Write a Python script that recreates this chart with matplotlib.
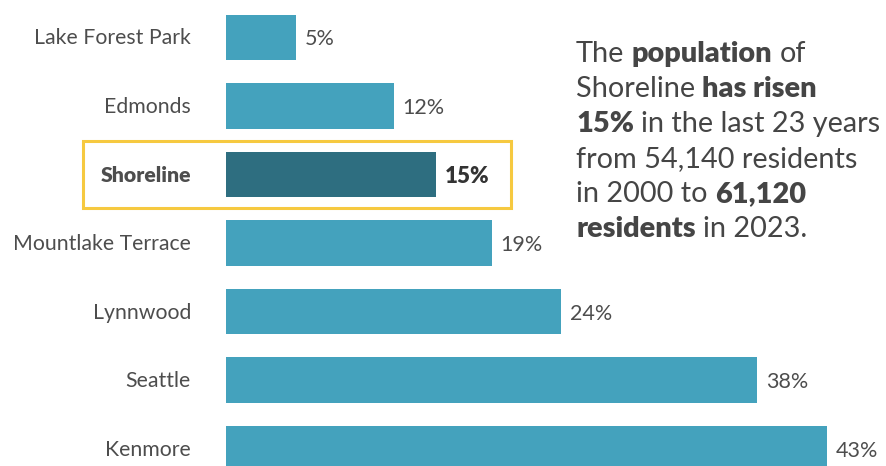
import matplotlib
matplotlib.use("Agg")
import matplotlib.pyplot as plt
from matplotlib.patches import Rectangle

plt.rcParams['font.family'] = ['Lato', 'DejaVu Sans']

cities = ["Lake Forest Park", "Edmonds", "Shoreline", "Mountlake Terrace",
          "Lynnwood", "Seattle", "Kenmore"]
growth = [5, 12, 15, 19, 24, 38, 43]
highlight = "Shoreline"

BAR = "#44a2bd"
BAR_HI = "#2e6e80"
TEXT = "#4d4d4d"
BOX = "#f6c940"

W, H, DPI = 886, 466, 100
fig = plt.figure(figsize=(W / DPI, H / DPI), dpi=DPI)
fig.patch.set_facecolor("white")

ax = fig.add_axes([226 / W, 0, 601 / W, 1])
ax.set_xlim(0, max(growth))
ax.set_ylim(6.255, -0.547)
ax.axis("off")

ypos = list(range(len(cities)))
colors = [BAR_HI if c == highlight else BAR for c in cities]
ax.barh(ypos, growth, height=0.66, color=colors, clip_on=False)

for y, c, v in zip(ypos, cities, growth):
    hi = c == highlight
    weight = "heavy" if hi else "normal"
    ax.annotate(c, xy=(0, y), xytext=(-35, -1), textcoords="offset pixels",
                ha="right", va="center", fontsize=15.3, color=TEXT,
                fontweight=weight, annotation_clip=False)
    ax.annotate(f"{v}%", xy=(v, y), xytext=(9, -2), textcoords="offset pixels",
                ha="left", va="center", fontsize=15.5 if not hi else 16,
                color=TEXT if not hi else "#333333",
                fontweight=weight, annotation_clip=False)

# highlight frame around the Shoreline row
hi_y = cities.index(highlight)
px = (max(growth) - 0) / 601.0
box = Rectangle((-143 * px, hi_y - 0.49), 428 * px, 0.98, fill=False,
                edgecolor=BOX, linewidth=2.2, clip_on=False)
ax.add_patch(box)

# callout paragraph with mixed weights
lines = [
    [("The", False), ("population", True), ("of", False)],
    [("Shoreline", False), ("has risen", True)],
    [("15%", True), ("in the last 23 years", False)],
    [("from 54,140 residents", False)],
    [("in 2000 to", False), ("61,120", True)],
    [("residents", True), ("in 2023.", False)],
]
FS = 20.8
x0 = 576
baseline0 = 62
step = 35

fig.canvas.draw()
renderer = fig.canvas.get_renderer()


def width_of(s, bold):
    t = fig.text(0, 0, s, fontsize=FS, fontweight="heavy" if bold else "normal")
    w = t.get_window_extent(renderer).width
    t.remove()
    return w


space = width_of("a a", False) - width_of("aa", False)

for i, runs in enumerate(lines):
    x = x0
    yb = H - (baseline0 + i * step)
    for j, (s, bold) in enumerate(runs):
        t = fig.text(x / W, yb / H, s, fontsize=FS, color="#454545",
                     fontweight="heavy" if bold else "normal",
                     ha="left", va="baseline")
        x += t.get_window_extent(renderer).width + space

fig.savefig("out.png", dpi=DPI, facecolor="white")
